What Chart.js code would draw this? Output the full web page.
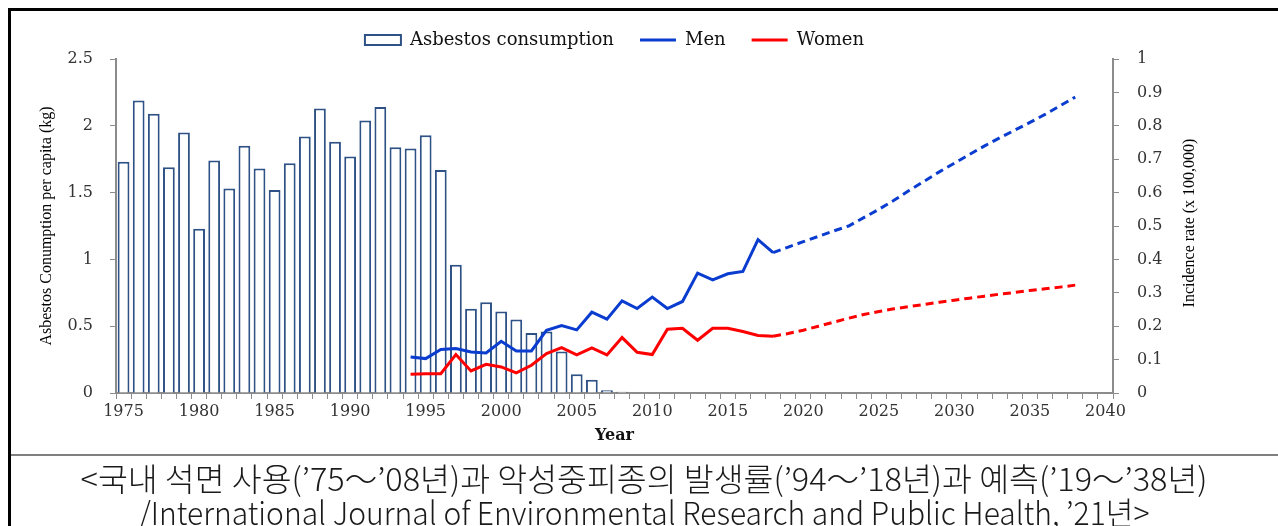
<!DOCTYPE html>
<html>
<head>
<meta charset="utf-8">
<script src="https://cdn.jsdelivr.net/npm/chart.js@4.4.1/dist/chart.umd.min.js"></script>
<style>
  html, body { margin: 0; padding: 0; background: #fff; }
  body { width: 1278px; height: 526px; position: relative; overflow: hidden; }
  .frame { position: absolute; left: 8px; top: 8px; right: 0; bottom: 0;
           border-top: 3px solid #000; border-left: 3px solid #000; }
  .plot { position: absolute; left: 11px; top: 11px; width: 1267px; height: 444px; }
  .rule { position: absolute; left: 11px; right: 0; top: 454px; height: 2px; background: #808080; }
  .caption { position: absolute; left: 11px; right: 0; text-align: center;
             font-family: "Noto Sans CJK KR", "Noto Sans", sans-serif; color: #1a1a1a;
             font-size: 32px; font-weight: 300; line-height: 34px; white-space: nowrap; }
  .caption span { display: inline-block; transform-origin: center; }
</style>
</head>
<body>
<div class="frame"></div>
<div class="plot"><canvas id="chart"></canvas></div>
<div class="rule"></div>
<div class="caption" style="top:460px"><span id="cap1">&lt;국내 석면 사용(’75～’08년)과 악성중피종의 발생률(’94～’18년)과 예측(’19～’38년)</span></div>
<div class="caption" style="top:494px"><span id="cap2">/International Journal of Environmental Research and Public Health, ’21년&gt;</span></div>
<script>
// categories: one per year, labels only every 5 years
const years = [
  "1975","1976","1977","1978","1979","1980","1981","1982","1983","1984",
  "1985","1986","1987","1988","1989","1990","1991","1992","1993","1994",
  "1995","1996","1997","1998","1999","2000","2001","2002","2003","2004",
  "2005","2006","2007","2008","2009","2010","2011","2012","2013","2014",
  "2015","2016","2017","2018","2019","2020","2021","2022","2023","2024",
  "2025","2026","2027","2028","2029","2030","2031","2032","2033","2034",
  "2035","2036","2037","2038","2039","2040"
]

// asbestos consumption per capita (kg), 1975-2008
const asbestos = [
  1.73, 2.19, 2.09, 1.69, 1.95, 1.23, 1.74, 1.53, 1.85, 1.68,
  1.52, 1.72, 1.92, 2.13, 1.88, 1.77, 2.04, 2.14, 1.84, 1.83,
  1.93, 1.67, 0.96, 0.63, 0.68, 0.61, 0.55, 0.45, 0.46, 0.31,
  0.14, 0.10, 0.02, 0.01
]

// incidence rate (x 100,000), observed 1994-2018
const menObserved = [
  0.108, 0.103, 0.130, 0.133, 0.123, 0.120, 0.155, 0.126, 0.126, 0.188,
  0.202, 0.189, 0.242, 0.221, 0.276, 0.253, 0.287, 0.253, 0.274, 0.359,
  0.339, 0.357, 0.364, 0.459, 0.420
]
const womenObserved = [
  0.056, 0.058, 0.058, 0.115, 0.066, 0.086, 0.078, 0.060, 0.083, 0.118,
  0.136, 0.114, 0.135, 0.114, 0.166, 0.122, 0.115, 0.191, 0.194, 0.158,
  0.194, 0.194, 0.184, 0.172, 0.170
]

// projected 2019-2038
const menProjected = [
  0.437, 0.453, 0.469, 0.485, 0.500, 0.525, 0.550, 0.577, 0.606, 0.634,
  0.662, 0.688, 0.714, 0.740, 0.764, 0.787, 0.810, 0.834, 0.860, 0.886
]
const womenProjected = [
  0.178, 0.188, 0.200, 0.212, 0.224, 0.235, 0.244, 0.252, 0.259, 0.265,
  0.272, 0.278, 0.284, 0.290, 0.296, 0.301, 0.307, 0.312, 0.317, 0.323
]

const leftTicks = { min: 0, max: 2.5, step: 0.5 }
const rightTicks = { min: 0, max: 1, step: 0.1 }

const observedStart = years.indexOf("1994")
const lastObserved = years.indexOf("2018")

function alongYears(start, values) {
  const out = years.map(() => null)
  values.forEach((v, i) => { out[start + i] = v })
  return out
}

const axisGrey = "#8c8c8c"
const tickInk = "#333"
const tickFont = { family: "DejaVu Serif", size: 16 }
const plainNumber = (v) => String(Math.round(v * 10) / 10)
const dashed = (ctx) => ctx.p0DataIndex >= lastObserved ? [8, 5] : undefined

// right-hand title reads bottom-to-top, like the left one
const rightTitle = {
  id: "rightTitle",
  afterDraw(chart) {
    const scale = chart.scales.y1
    const { ctx } = chart
    ctx.save()
    ctx.translate(scale.left + 77, (scale.top + scale.bottom) / 2 - 3)
    ctx.rotate(-Math.PI / 2)
    ctx.font = '16px "Liberation Serif"'
    ctx.fillStyle = "#000"
    ctx.textAlign = "center"
    ctx.textBaseline = "middle"
    ctx.fillText("Incidence rate (x 100,000)", 0, 0)
    ctx.restore()
  }
}

new Chart(document.getElementById("chart"), {
  type: "bar",
  data: {
    labels: years,
    datasets: [
      {
        label: "Asbestos consumption",
        data: alongYears(0, asbestos),
        yAxisID: "y",
        backgroundColor: "#ffffff",
        borderColor: "#2f5286",
        borderWidth: 2,
        barPercentage: 0.78,
        categoryPercentage: 1,
        order: 1
      },
      {
        type: "line",
        label: "Men",
        data: alongYears(observedStart, menObserved.concat(menProjected)),
        yAxisID: "y1",
        borderColor: "#0a3ccf",
        backgroundColor: "#0a3ccf",
        borderWidth: 3,
        pointRadius: 0,
        tension: 0,
        segment: { borderDash: dashed },
        order: 0
      },
      {
        type: "line",
        label: "Women",
        data: alongYears(observedStart, womenObserved.concat(womenProjected)),
        yAxisID: "y1",
        borderColor: "#ff0000",
        backgroundColor: "#ff0000",
        borderWidth: 3,
        pointRadius: 0,
        tension: 0,
        segment: { borderDash: dashed },
        order: 0
      }
    ]
  },
  options: {
    responsive: true,
    maintainAspectRatio: false,
    animation: false,
    layout: { padding: { top: -6, left: 0, right: 0, bottom: 0 } },
    plugins: {
      tooltip: { enabled: false },
      legend: {
        position: "top",
        fullSize: false,
        labels: {
          usePointStyle: true,
          pointStyleWidth: 36,
          boxHeight: 10,
          padding: 26,
          color: "#111",
          font: { family: "DejaVu Serif", size: 18 },
          sort: (a, b) => a.datasetIndex - b.datasetIndex,
          generateLabels(chart) {
            const items = Chart.defaults.plugins.legend.labels.generateLabels(chart)
            items.forEach((item) => {
              item.pointStyle = item.datasetIndex === 0 ? "rect" : "line"
            })
            return items
          }
        }
      }
    },
    scales: {
      x: {
        type: "category",
        offset: true,
        grid: { offset: true, drawOnChartArea: false, tickLength: 6, color: axisGrey },
        border: { color: axisGrey, width: 2 },
        ticks: {
          autoSkip: false,
          maxRotation: 0,
          padding: 3,
          color: tickInk,
          font: tickFont,
          callback: (value, index) => index % 5 === 0 ? years[index] : ""
        },
        title: {
          display: true,
          text: "Year",
          color: "#111",
          font: { family: "DejaVu Serif", size: 16, weight: "bold" },
          padding: { top: 0, bottom: 10 }
        },
        afterFit: (scale) => { scale.height = 62 }
      },
      y: {
        position: "left",
        min: leftTicks.min,
        max: leftTicks.max,
        grid: { drawOnChartArea: false, tickLength: 6, color: axisGrey },
        border: { color: axisGrey, width: 2 },
        ticks: { stepSize: leftTicks.step, padding: 17, color: tickInk, font: tickFont, callback: plainNumber },
        title: {
          display: true,
          text: "Asbestos Conumption per capita (kg)",
          color: "#000",
          font: { family: "Liberation Serif", size: 16 },
          padding: { top: 26, bottom: 0 }
        },
        afterFit: (scale) => { scale.width = 105 }
      },
      y1: {
        position: "right",
        min: rightTicks.min,
        max: rightTicks.max,
        grid: { drawOnChartArea: false, tickLength: 6, color: axisGrey },
        border: { color: axisGrey, width: 2 },
        ticks: { stepSize: rightTicks.step, padding: 18, color: tickInk, font: tickFont, callback: plainNumber },
        afterFit: (scale) => { scale.width = 165 }
      }
    }
  },
  plugins: [rightTitle]
})

// squeeze the caption lines to the width they take in the source
function fitCaption(id, width) {
  const el = document.getElementById(id)
  el.style.transform = `scaleX(${width / el.offsetWidth})`
}
fitCaption("cap1", 1127)
fitCaption("cap2", 1010)
</script>
</body>
</html>
